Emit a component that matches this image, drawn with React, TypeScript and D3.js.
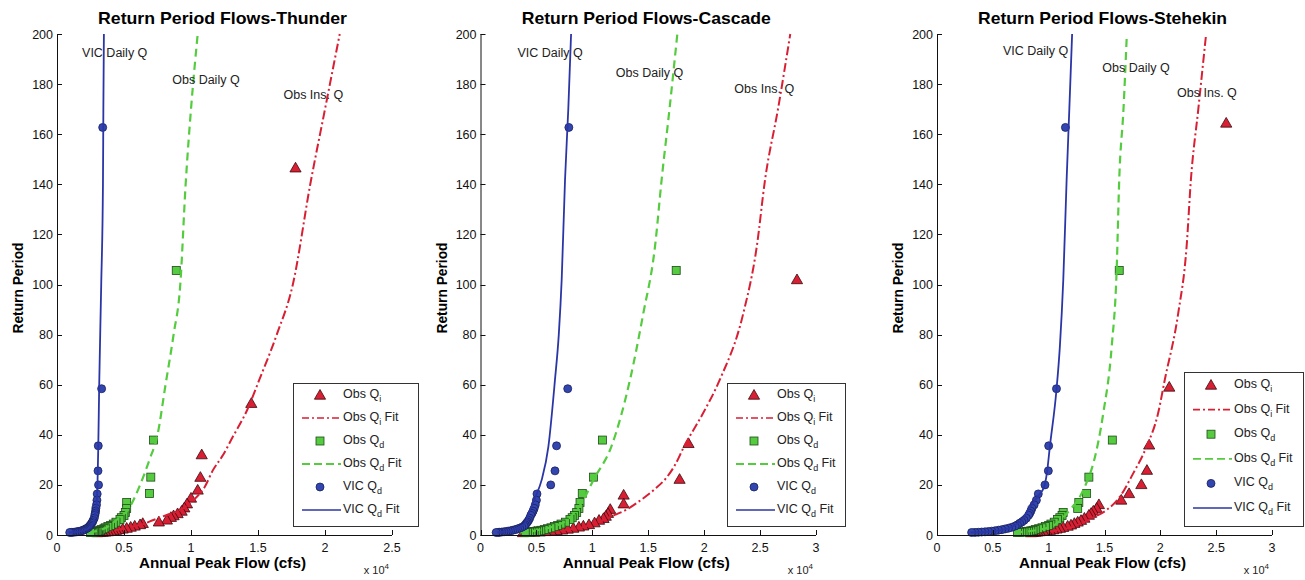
import React from 'react';
import * as d3 from 'd3';

// ---------------- DATA (flows in units of 10^4 cfs, return period in years) ----------------
const yTickValues = [0, 20, 40, 60, 80, 100, 120, 140, 160, 180, 200];
const xTicksThunder = [0, 0.5, 1, 1.5, 2, 2.5];
const xTicksWide = [0, 0.5, 1, 1.5, 2, 2.5, 3];

// return periods of plotted sample points
const rpVicQd = [162.7, 58.4, 35.6, 25.6, 20.0, 16.4, 13.9, 12.05, 10.6, 9.53, 8.63, 7.88, 6.71, 5.86, 5.19, 4.66, 4.04, 3.57, 3.08, 2.71, 2.43, 2.14, 1.92, 1.70, 1.53, 1.39, 1.27, 1.18, 1.09, 1.04, 1.006];
const rpObsQd = [105.6, 37.9, 23.1, 16.6, 13.0, 10.6, 9.0, 7.82, 6.90, 6.18, 5.11, 4.36, 3.80, 3.37, 2.88, 2.51, 2.15, 1.87, 1.66, 1.49, 1.36, 1.24, 1.15, 1.07, 1.01];
const rpThunderObsQi = [146.6, 52.6, 32.1, 23.1, 18.0, 14.8, 12.5, 10.9, 9.58, 8.59, 7.77, 7.10, 6.04, 5.28, 4.68, 4.20, 3.64, 3.21, 2.78, 2.45, 2.19, 1.93, 1.73, 1.53, 1.38, 1.25, 1.15, 1.06, 1.007];
const rpCascadeObsQi = [102.0, 36.6, 22.3, 16.0, 12.5, 10.3, 8.71, 7.56, 6.67, 5.97, 4.94, 4.21, 3.67, 3.25, 2.78, 2.42, 2.07, 1.81, 1.61, 1.44, 1.31, 1.20, 1.11, 1.01];
const rpStehekinObsQi = [164.5, 59.1, 36.0, 25.9, 20.2, 16.6, 14.0, 12.2, 10.7, 9.63, 8.72, 7.97, 6.79, 5.92, 5.25, 4.71, 4.08, 3.60, 3.11, 2.74, 2.45, 2.16, 1.94, 1.72, 1.55, 1.40, 1.29, 1.19, 1.10, 1.05, 1.01];

// Thunder
const thunderObsQi = [1.78, 1.45, 1.08, 1.07, 1.05, 1.0, 0.97, 0.95, 0.93, 0.90, 0.87, 0.85, 0.82, 0.76, 0.64, 0.62, 0.58, 0.55, 0.52, 0.49, 0.46, 0.44, 0.42, 0.40, 0.38, 0.36, 0.34, 0.32, 0.30];
const thunderObsQd = [0.89, 0.72, 0.70, 0.69, 0.52, 0.52, 0.51, 0.50, 0.48, 0.47, 0.44, 0.42, 0.40, 0.38, 0.36, 0.35, 0.33, 0.32, 0.31, 0.30, 0.29, 0.28, 0.27, 0.26, 0.25];
const thunderVicQd = [0.341, 0.333, 0.308, 0.306, 0.31, 0.30, 0.298, 0.295, 0.29, 0.288, 0.285, 0.282, 0.278, 0.27, 0.265, 0.258, 0.25, 0.243, 0.235, 0.225, 0.215, 0.205, 0.195, 0.185, 0.172, 0.16, 0.148, 0.135, 0.12, 0.108, 0.095];
const thunderObsQiFitQ = [0.30, 0.38, 0.46, 0.55, 0.65, 0.72, 0.82, 0.92, 1.02, 1.1, 1.165, 1.24, 1.31, 1.42, 1.51, 1.64, 1.76, 1.89, 2.0, 2.11];
const thunderObsQiFitT = [1.0, 1.5, 2.2, 3.2, 4.5, 6, 8, 10, 14, 19, 26, 32, 39, 50, 62, 80, 100, 140, 170, 200];
const thunderObsQdFitQ = [0.24, 0.27, 0.32, 0.37, 0.42, 0.48, 0.53, 0.58, 0.62, 0.69, 0.75, 0.81, 0.87, 0.92, 0.96, 1.0, 1.05];
const thunderObsQdFitT = [1.0, 1.3, 2, 3, 5, 7.5, 10, 15, 20, 30, 40, 60, 80, 100, 140, 170, 200];
const thunderVicFitQ = [0.09, 0.15, 0.2, 0.23, 0.255, 0.27, 0.285, 0.295, 0.302, 0.308, 0.315, 0.33, 0.343, 0.346, 0.35];
const thunderVicFitT = [1.0, 1.3, 1.8, 2.5, 3.5, 5, 8, 12, 20, 35, 60, 100, 140, 170, 200];

// Cascade
const cascadeObsQi = [2.83, 1.86, 1.78, 1.28, 1.28, 1.16, 1.14, 1.12, 1.10, 1.06, 1.02, 0.97, 0.92, 0.88, 0.83, 0.78, 0.73, 0.68, 0.63, 0.58, 0.53, 0.48, 0.43, 0.38];
const cascadeObsQd = [1.75, 1.09, 1.01, 0.91, 0.89, 0.88, 0.86, 0.84, 0.82, 0.80, 0.76, 0.72, 0.69, 0.66, 0.63, 0.60, 0.57, 0.54, 0.52, 0.50, 0.48, 0.46, 0.44, 0.42, 0.40];
const cascadeVicQd = [0.79, 0.78, 0.68, 0.666, 0.628, 0.505, 0.50, 0.49, 0.48, 0.47, 0.46, 0.45, 0.44, 0.43, 0.42, 0.41, 0.40, 0.39, 0.37, 0.35, 0.33, 0.31, 0.29, 0.27, 0.25, 0.23, 0.21, 0.19, 0.17, 0.16, 0.14];
const cascadeObsQiFitQ = [0.45, 0.6, 0.75, 0.9, 1.0, 1.1, 1.2, 1.3, 1.42, 1.55, 1.665, 1.74, 1.82, 1.99, 2.14, 2.35, 2.47, 2.545, 2.66, 2.77];
const cascadeObsQiFitT = [1.0, 1.4, 2.0, 3, 4.2, 6, 8, 10, 13.5, 18, 23, 28, 35.3, 48.6, 62, 88.5, 115, 142, 170, 200];
const cascadeObsQdFitQ = [0.35, 0.42, 0.5, 0.58, 0.66, 0.74, 0.8, 0.86, 0.92, 1.01, 1.17, 1.337, 1.456, 1.56, 1.62, 1.69, 1.76];
const cascadeObsQdFitT = [1.0, 1.3, 1.8, 2.5, 3.5, 5, 7, 10, 14, 22, 35.3, 62, 88.5, 115, 142, 170, 200];
const cascadeVicFitQ = [0.15, 0.22, 0.28, 0.33, 0.37, 0.4, 0.42, 0.443, 0.49, 0.547, 0.607, 0.666, 0.70, 0.726, 0.756, 0.785, 0.81];
const cascadeVicFitT = [1.0, 1.3, 1.8, 2.6, 3.6, 5, 7, 10, 15, 22, 35.3, 62, 80, 102, 142, 170, 200];

// Stehekin
const stehekinObsQi = [2.59, 2.08, 1.90, 1.88, 1.83, 1.72, 1.65, 1.45, 1.43, 1.40, 1.38, 1.36, 1.32, 1.29, 1.26, 1.23, 1.20, 1.17, 1.13, 1.10, 1.07, 1.04, 1.01, 0.98, 0.95, 0.92, 0.90, 0.88, 0.86, 0.85, 0.84];
const stehekinObsQd = [1.632, 1.57, 1.36, 1.34, 1.27, 1.26, 1.13, 1.12, 1.10, 1.08, 1.05, 1.02, 1.0, 0.97, 0.94, 0.91, 0.88, 0.86, 0.84, 0.82, 0.80, 0.78, 0.76, 0.74, 0.72];
const stehekinVicQd = [1.15, 1.07, 1.0, 0.997, 0.967, 0.907, 0.89, 0.87, 0.85, 0.84, 0.83, 0.82, 0.80, 0.78, 0.76, 0.74, 0.72, 0.70, 0.67, 0.64, 0.61, 0.58, 0.55, 0.52, 0.49, 0.46, 0.43, 0.40, 0.37, 0.34, 0.31];
const stehekinObsQiFitQ = [0.85, 1.0, 1.12, 1.22, 1.3, 1.4, 1.52, 1.638, 1.757, 1.877, 1.98, 2.04, 2.16, 2.235, 2.274, 2.34, 2.41];
const stehekinObsQiFitT = [1.0, 1.4, 2.2, 3.3, 4.8, 7, 10, 15.3, 24.6, 35.3, 48.6, 62, 88.5, 115, 142, 170, 200];
const stehekinObsQdFitQ = [0.7, 0.8, 0.9, 1.0, 1.07, 1.13, 1.19, 1.28, 1.34, 1.40, 1.489, 1.564, 1.609, 1.632, 1.67, 1.70];
const stehekinObsQdFitT = [1.0, 1.4, 2.0, 3, 4.5, 7, 10, 15.3, 21, 28.6, 48.6, 75, 106, 142, 170, 200];
const stehekinVicFitQ = [0.3, 0.45, 0.58, 0.66, 0.72, 0.77, 0.817, 0.9, 0.96, 0.985, 1.01, 1.07, 1.10, 1.131, 1.161, 1.185, 1.21];
const stehekinVicFitT = [1.0, 1.3, 2, 3, 4.5, 6.5, 10, 15.3, 19.3, 25, 35, 58, 75, 102, 142, 170, 200];

// curve annotation labels: [text, flow, return period]
const thunderLabels: [string, number, number][] = [['VIC Daily Q', 0.187, 191], ['Obs Daily Q', 0.86, 180], ['Obs Ins. Q', 1.69, 174]];
const cascadeLabels: [string, number, number][] = [['VIC Daily Q', 0.33, 191], ['Obs Daily Q', 1.21, 183], ['Obs Ins. Q', 2.27, 176.5]];
const stehekinLabels: [string, number, number][] = [['VIC Daily Q', 0.59, 191.6], ['Obs Daily Q', 1.48, 185], ['Obs Ins. Q', 2.15, 175]];

const titles = ['Return Period Flows-Thunder', 'Return Period Flows-Cascade', 'Return Period Flows-Stehekin'];
const legendLabels: [string, string, string][] = [
  ['Obs Q', 'i', ''], ['Obs Q', 'i', ' Fit'], ['Obs Q', 'd', ''], ['Obs Q', 'd', ' Fit'], ['VIC Q', 'd', ''], ['VIC Q', 'd', ' Fit'],
];

// ---------------- STYLE / LAYOUT ----------------
const FONT = '"Liberation Sans", Arial, Helvetica, sans-serif';
const RED = '#d81f33';
const GREEN = '#55cc3f';
const BLUE = '#2b36a6';
const TOP = 34;
const BOTTOM = 535;

const zip = (q: number[], t: number[]) => q.map((v, i) => [v, t[i]] as [number, number]);

const panels = [
  {
    title: titles[0], left: 57, right: 392, xMax: 2.5, xTicks: xTicksThunder, yLabelX: 23,
    legend: { x: 293, y: 383, w: 125, h: 143, row0: 12, step: 23 },
    qi: zip(thunderObsQi, rpThunderObsQi), qd: zip(thunderObsQd, rpObsQd), vic: zip(thunderVicQd, rpVicQd),
    qiFit: zip(thunderObsQiFitQ, thunderObsQiFitT), qdFit: zip(thunderObsQdFitQ, thunderObsQdFitT), vicFit: zip(thunderVicFitQ, thunderVicFitT),
    labels: thunderLabels,
  },
  {
    title: titles[1], left: 480.5, right: 816, xMax: 3, xTicks: xTicksWide, yLabelX: 447,
    legend: { x: 727, y: 383, w: 118, h: 143, row0: 12, step: 23 },
    qi: zip(cascadeObsQi, rpCascadeObsQi), qd: zip(cascadeObsQd, rpObsQd), vic: zip(cascadeVicQd, rpVicQd),
    qiFit: zip(cascadeObsQiFitQ, cascadeObsQiFitT), qdFit: zip(cascadeObsQdFitQ, cascadeObsQdFitT), vicFit: zip(cascadeVicFitQ, cascadeVicFitT),
    labels: cascadeLabels,
  },
  {
    title: titles[2], left: 937, right: 1272, xMax: 3, xTicks: xTicksWide, yLabelX: 903,
    legend: { x: 1184, y: 372, w: 119, h: 154, row0: 13, step: 24.6 },
    qi: zip(stehekinObsQi, rpStehekinObsQi), qd: zip(stehekinObsQd, rpObsQd), vic: zip(stehekinVicQd, rpVicQd),
    qiFit: zip(stehekinObsQiFitQ, stehekinObsQiFitT), qdFit: zip(stehekinObsQdFitQ, stehekinObsQdFitT), vicFit: zip(stehekinVicFitQ, stehekinVicFitT),
    labels: stehekinLabels,
  },
];

const triPath = 'M0,-5.5L5.6,4.2L-5.6,4.2Z';

function Tri({ cx, cy }: { cx: number; cy: number }) {
  return <path d={triPath} transform={`translate(${cx},${cy})`} fill={RED} stroke="#3a0a0e" strokeWidth={0.8} />;
}
function Sq({ cx, cy }: { cx: number; cy: number }) {
  return <rect x={cx - 4} y={cy - 4} width={8} height={8} fill={GREEN} stroke="#1f4a1a" strokeWidth={0.8} />;
}
function Circ({ cx, cy }: { cx: number; cy: number }) {
  return <circle cx={cx} cy={cy} r={4} fill="#3346b0" stroke="#18205e" strokeWidth={0.8} />;
}

function Panel({ p, idx }: { p: (typeof panels)[number]; idx: number }) {
  const x = d3.scaleLinear().domain([0, p.xMax]).range([p.left, p.right]);
  const y = d3.scaleLinear().domain([0, 200]).range([BOTTOM, TOP]);
  const line = d3.line<[number, number]>().x((d) => x(d[0])).y((d) => y(d[1])).curve(d3.curveMonotoneX);
  const clipId = `clip${idx}`;
  const cx = (p.left + p.right) / 2;
  const L = p.legend;
  return (
    <g>
      <defs>
        <clipPath id={clipId}>
          <rect x={p.left} y={TOP - 1} width={p.right - p.left} height={BOTTOM - TOP + 1} />
        </clipPath>
      </defs>
      {/* title */}
      <text x={cx - 2} y={24} textAnchor="middle" fontFamily={FONT} fontWeight="bold" fontSize={16.5} textLength={249} lengthAdjust="spacingAndGlyphs" fill="#000">{p.title}</text>
      {/* data */}
      <g>
        {p.qi.map((d, i) => <Tri key={'t' + i} cx={x(d[0])} cy={y(d[1])} />)}
      </g>
      <path d={line(p.qiFit) || ''} fill="none" stroke={RED} strokeWidth={2} strokeDasharray="9,3,2,3" clipPath={`url(#${clipId})`} />
      <g>
        {p.qd.map((d, i) => <Sq key={'s' + i} cx={x(d[0])} cy={y(d[1])} />)}
      </g>
      <path d={line(p.qdFit) || ''} fill="none" stroke={GREEN} strokeWidth={2.2} strokeDasharray="8,5" clipPath={`url(#${clipId})`} />
      <g>
        {p.vic.map((d, i) => <Circ key={'c' + i} cx={x(d[0])} cy={y(d[1])} />)}
      </g>
      <path d={line(p.vicFit) || ''} fill="none" stroke={BLUE} strokeWidth={1.8} clipPath={`url(#${clipId})`} />
      {/* annotations */}
      {p.labels.map(([t, q, r], i) => (
        <text key={'l' + i} x={x(q)} y={y(r)} fontFamily={FONT} fontSize={12.5} fill="#222">{t}</text>
      ))}
      {/* axes */}
      <line x1={p.left} x2={p.right} y1={BOTTOM + 0.5} y2={BOTTOM + 0.5} stroke="#111" strokeWidth={1} />
      <line x1={p.left + 0.5} x2={p.left + 0.5} y1={TOP} y2={BOTTOM} stroke="#111" strokeWidth={1} />
      {p.xTicks.map((t) => (
        <g key={'xt' + t}>
          <line x1={Math.round(x(t)) + 0.5} x2={Math.round(x(t)) + 0.5} y1={BOTTOM} y2={BOTTOM - 5} stroke="#111" />
          <text x={x(t)} y={552} textAnchor="middle" fontFamily={FONT} fontSize={12.5} fill="#111">{String(t)}</text>
        </g>
      ))}
      {yTickValues.map((t) => (
        <g key={'yt' + t}>
          <line x1={p.left} x2={p.left + 5} y1={Math.round(y(t)) + 0.5} y2={Math.round(y(t)) + 0.5} stroke="#111" />
          <text x={p.left - 4} y={y(t) + 4.5} textAnchor="end" fontFamily={FONT} fontSize={12.5} fill="#111">{t}</text>
        </g>
      ))}
      {/* axis labels */}
      <text x={cx - 2} y={568} textAnchor="middle" fontFamily={FONT} fontWeight="bold" fontSize={15.5} textLength={167} lengthAdjust="spacingAndGlyphs" fill="#000">Annual Peak Flow (cfs)</text>
      <text x={p.right - 3} y={574} textAnchor="end" fontFamily={FONT} fontSize={11} fill="#222">
        x 10<tspan dy={-5} fontSize={8}>4</tspan>
      </text>
      <text transform={`translate(${p.yLabelX},288) rotate(-90)`} textAnchor="middle" fontFamily={FONT} fontWeight="bold" fontSize={14} textLength={91} lengthAdjust="spacingAndGlyphs" fill="#000">Return Period</text>
      {/* legend */}
      <rect x={L.x + 0.5} y={L.y + 0.5} width={L.w} height={L.h} fill="#fff" stroke="#333" strokeWidth={1} />
      {legendLabels.map(([main, sub, suf], i) => {
        const ry = L.y + L.row0 + i * L.step;
        const mx = L.x + 27;
        let sample: React.ReactNode = null;
        if (i === 0) sample = <Tri cx={mx} cy={ry} />;
        if (i === 2) sample = <Sq cx={mx} cy={ry} />;
        if (i === 4) sample = <Circ cx={mx} cy={ry} />;
        if (i === 1) sample = <line x1={L.x + 9} x2={L.x + 48} y1={ry} y2={ry} stroke={RED} strokeWidth={1.6} strokeDasharray="7,3,2,3" />;
        if (i === 3) sample = <line x1={L.x + 9} x2={L.x + 48} y1={ry} y2={ry} stroke={GREEN} strokeWidth={1.8} strokeDasharray="8,4" />;
        if (i === 5) sample = <line x1={L.x + 9} x2={L.x + 48} y1={ry} y2={ry} stroke={BLUE} strokeWidth={1.6} />;
        return (
          <g key={'lg' + i}>
            {sample}
            <text x={L.x + 50} y={ry + 3} fontFamily={FONT} fontSize={12.5} fill="#222">
              {main}
              <tspan dy={4} fontSize={9}>{sub}</tspan>
              {suf ? <tspan dy={-4}>{suf}</tspan> : null}
            </text>
          </g>
        );
      })}
    </g>
  );
}

export default function App() {
  return (
    <svg width={1305} height={580} style={{ position: 'absolute', left: 0, top: 0, background: '#fff' }}>
      <rect x={0} y={0} width={1305} height={580} fill="#fff" />
      {panels.map((p, i) => <Panel key={i} p={p} idx={i} />)}
    </svg>
  );
}
